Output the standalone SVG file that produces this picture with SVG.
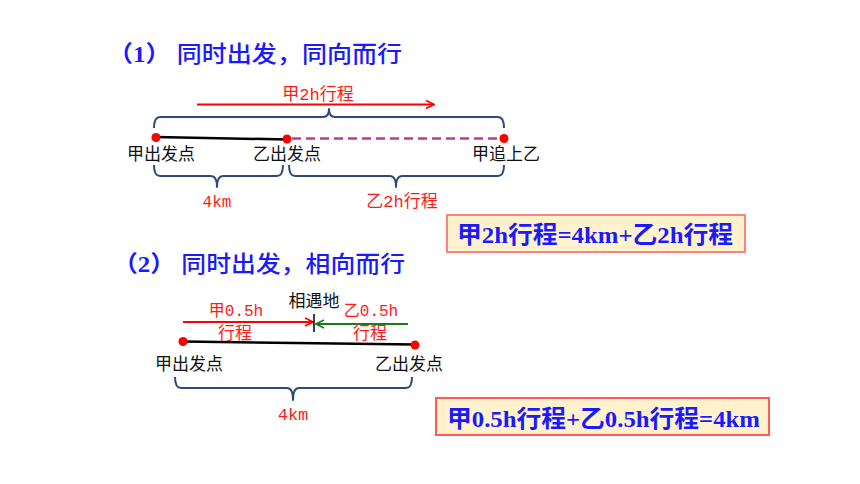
<svg xmlns="http://www.w3.org/2000/svg" width="860" height="484" viewBox="0 0 860 484">
<defs>
<style>
.title{font-family:"Liberation Serif","Noto Sans CJK SC",serif;font-size:23px;font-weight:bold;fill:#1a1aff}
.tcjk{font-family:"Noto Sans CJK SC",sans-serif;font-weight:500}
.lbl{font-family:"Noto Sans CJK SC",sans-serif;font-size:17px;fill:#111}
.red{font-family:"Liberation Mono","Noto Sans CJK SC",monospace;fill:#ff1a1a}
.brace{fill:none;stroke:#2E4A7A;stroke-width:2;stroke-linejoin:round}
.box{fill:#FFF2CC;stroke:#FF8080;stroke-width:2}
.eq{font-family:"Liberation Serif","Noto Sans CJK SC",serif;font-size:24px;font-weight:bold;fill:#1a1aff}
.dot{fill:#ff0000}
</style>
<marker id="arrR" viewBox="0 0 10 10" refX="9" refY="5" markerWidth="10" markerHeight="10" markerUnits="userSpaceOnUse" orient="auto">
<path d="M1,1 L9,5 L1,9" fill="none" stroke="#ff0000" stroke-width="1.6"/>
</marker>
<marker id="arrG" viewBox="0 0 10 10" refX="9" refY="5" markerWidth="10" markerHeight="10" markerUnits="userSpaceOnUse" orient="auto">
<path d="M1,1 L9,5 L1,9" fill="none" stroke="#1B7A1B" stroke-width="1.6"/>
</marker>
</defs>

<g id="title1"><text class="title" x="108" y="62" textLength="294" lengthAdjust="spacingAndGlyphs">（1） <tspan class="tcjk">同时出发，同向而行</tspan></text></g>
<g id="title2"><text class="title" x="113" y="272" textLength="292" lengthAdjust="spacingAndGlyphs">（2） <tspan class="tcjk">同时出发，相向而行</tspan></text></g>

<g id="connectors">
<line x1="197" y1="104.5" x2="434" y2="104.5" stroke="#ff0000" stroke-width="2" marker-end="url(#arrR)"/>
<line x1="156" y1="137" x2="287" y2="139.5" stroke="#000" stroke-width="2.5"/>
<line x1="292" y1="138.5" x2="500" y2="138.5" stroke="#CC3399" stroke-width="2.5" stroke-dasharray="9,5"/>
<path class="brace" d="M154,128 Q154,117 160,117 L323,117 Q329,117 329,109 Q329,117 335,117 L498,117 Q504,117 504,128"/>
<path class="brace" d="M154,165 Q154,176 160,176 L211,176 Q217,176 217,187 Q217,176 223,176 L277,176 Q283,176 283,165"/>
<path class="brace" d="M289,165 Q289,176 295,176 L390,176 Q396,176 396,187 Q396,176 402,176 L498,176 Q504,176 504,165"/>
<line x1="183" y1="322" x2="313" y2="322" stroke="#ff0000" stroke-width="2" marker-end="url(#arrR)"/>
<line x1="408" y1="324" x2="316" y2="324" stroke="#1B7A1B" stroke-width="2" marker-end="url(#arrG)"/>
<line x1="314" y1="314" x2="314" y2="332" stroke="#000" stroke-width="1.5"/>
<line x1="183" y1="341.5" x2="415" y2="344.5" stroke="#000" stroke-width="2.5"/>
<path class="brace" d="M175,377 Q175,388 181,388 L287,388 Q293,388 293,400 Q293,388 299,388 L406,388 Q412,388 412,377"/>
</g>

<g id="node-jia-start1"><circle class="dot" cx="156" cy="137.5" r="4.5"/><text class="lbl" x="161" y="160" text-anchor="middle">甲出发点</text></g>
<g id="node-yi-start1"><circle class="dot" cx="287" cy="139" r="4.5"/><text class="lbl" x="287" y="160" text-anchor="middle">乙出发点</text></g>
<g id="node-catch"><circle class="dot" cx="504" cy="138.5" r="4.5"/><text class="lbl" x="506" y="160" text-anchor="middle">甲追上乙</text></g>

<g id="label-jia2h"><text class="red" x="318" y="100" font-size="17" text-anchor="middle">甲2h行程</text></g>
<g id="label-4km1"><text class="red" x="217" y="207" font-size="16" text-anchor="middle">4km</text></g>
<g id="label-yi2h"><text class="red" x="402" y="207" font-size="17" text-anchor="middle">乙2h行程</text></g>

<g id="eq1"><rect class="box" x="447" y="215" width="298" height="37"/><text class="eq" x="457" y="243" textLength="276" lengthAdjust="spacingAndGlyphs">甲2h行程=4km+乙2h行程</text></g>

<g id="node-meet"><text class="lbl" x="314" y="307" text-anchor="middle">相遇地</text></g>
<g id="label-jia05"><text class="red" x="236" y="316" font-size="16" text-anchor="middle">甲0.5h</text><text class="red" x="235" y="339" font-size="17" text-anchor="middle">行程</text></g>
<g id="label-yi05"><text class="red" x="371" y="316" font-size="16" text-anchor="middle">乙0.5h</text><text class="red" x="370" y="339" font-size="17" text-anchor="middle">行程</text></g>
<g id="node-jia-start2"><circle class="dot" cx="183" cy="341.5" r="4.5"/><text class="lbl" x="189" y="370" text-anchor="middle">甲出发点</text></g>
<g id="node-yi-start2"><circle class="dot" cx="415" cy="345" r="4.5"/><text class="lbl" x="409" y="370" text-anchor="middle">乙出发点</text></g>
<g id="label-4km2"><text class="red" x="293" y="420" font-size="17" text-anchor="middle">4km</text></g>

<g id="eq2"><rect class="box" x="436" y="398" width="333" height="37" style="stroke:#FF5A5A"/><text class="eq" x="447" y="427" textLength="313" lengthAdjust="spacingAndGlyphs">甲0.5h行程+乙0.5h行程=4km</text></g>
</svg>
